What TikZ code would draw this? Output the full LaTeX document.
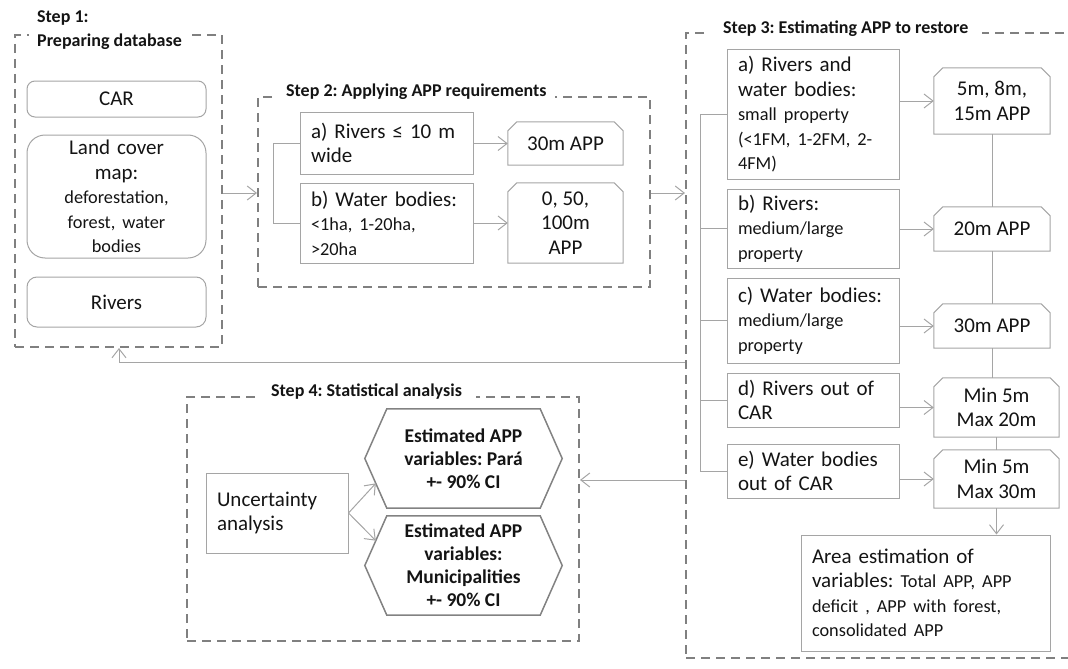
\documentclass[tikz,border=0pt]{standalone}
\usepackage{fontspec}
\setmainfont{Carlito}
\usetikzlibrary{arrows.meta,calc}
\definecolor{boxgray}{RGB}{165,165,165}
\definecolor{framegray}{RGB}{128,128,128}
\definecolor{hexgray}{RGB}{130,130,130}
\definecolor{txt}{RGB}{20,20,20}
\newcommand\Bg{\fontsize{21}{24.5}\selectfont}
\newcommand\Sm{\fontsize{18.3}{24}\selectfont}
\newcommand\Hd{\bfseries\fontsize{18}{24}\selectfont}
\newcommand\Hx{\bfseries\fontsize{19.5}{23}\selectfont}
\frenchspacing
\begin{document}
\begin{tikzpicture}[x=1pt,y=-1pt,
  frame/.style={draw=framegray, line width=2pt, dash pattern=on 9pt off 6pt, inner sep=0pt},
  steptitle/.style={fill=white, inner xsep=8pt, inner ysep=2pt, anchor=west, font=\Hd, text=txt, align=left},
  rbox/.style={draw=boxgray, line width=1pt, rounded corners=8pt, minimum width=179pt, inner xsep=11pt, text=txt, align=center, font=\Bg},
  lbox/.style={draw=boxgray, line width=1pt, text=txt, align=left, inner xsep=11pt, font=\Bg},
  cnode/.style={inner sep=0pt, text=txt, align=center, font=\Bg},
  hexnode/.style={inner sep=0pt, text=txt, align=center, font=\Hx, minimum width=197pt, minimum height=99pt},
  conn/.style={draw=boxgray, line width=1pt},
  arr/.style={conn, -{Straight Barb[length=9pt,width=14pt,line width=1pt]}},
  boxline/.style={draw=boxgray, line width=1pt},
  hexline/.style={draw=hexgray, line width=1.5pt}
]
\useasboundingbox (0,0) rectangle (1068,669);
\clip (0,0) rectangle (1068,669);

% frames
\node[frame, minimum width=207pt, minimum height=312pt] (s1) at (118.5,191) {};
\node[frame, minimum width=392pt, minimum height=190pt] (s2) at (454,192) {};
\node[frame, minimum width=394pt, minimum height=625pt] (s3) at (883,345.5) {};
\node[frame, minimum width=392pt, minimum height=244pt] (s4) at (383,519) {};

% titles
\node[steptitle] (t1) at (29,30) {Step 1:\\Preparing database};
\node[steptitle] (t2) at (278,92) {Step 2: Applying APP requirements};
\node[steptitle, inner xsep=14pt] (t3) at (709,29) {Step 3: Estimating APP to restore};
\node[steptitle, inner xsep=14pt] (t4) at (257,392) {Step 4: Statistical analysis};

% Step 1
\node[rbox, minimum height=36pt] (car) at (116.5,99) {CAR};
\node[rbox, minimum height=123pt, rounded corners=18pt, text width=157pt] (land) at (116.5,196.5)
  {Land cover\\map:\\{\Sm deforestation,}\\{\Sm forest, water}\\{\Sm bodies}};
\node[rbox, minimum height=50pt, rounded corners=10pt] (riv) at (116.5,302) {Rivers};

% Step 2
\node[lbox, text width=151pt, minimum height=62pt] (a2) at (386.5,143) {a) Rivers ≤ 10 m\\wide};
\node[lbox, text width=151pt, minimum height=80pt] (b2) at (386.5,223) {b) Water bodies:\\{\Sm <1ha, 1-20ha,}\\{\Sm >20ha}};
\node[cnode, minimum width=115pt, minimum height=43pt] (r2a) at (565.5,143.5) {30m APP};
\node[cnode, minimum width=115pt, minimum height=80pt] (r2b) at (565.5,223) {0, 50,\\100m\\APP};

% Step 3
\node[lbox, text width=150pt, minimum height=129pt] (a3) at (813,114.5)
  {a) Rivers and\\water bodies:\\{\Sm small property}\\{\Sm (<1FM, 1-2FM, 2-}\\{\Sm 4FM)}};
\node[lbox, text width=150pt, minimum height=79pt] (b3) at (813,228.5) {b) Rivers:\\{\Sm medium/large}\\{\Sm property}};
\node[lbox, text width=150pt, minimum height=85pt] (c3) at (813,320.5) {c) Water bodies:\\{\Sm medium/large}\\{\Sm property}};
\node[lbox, text width=150pt, minimum height=54pt] (d3) at (813,400) {d) Rivers out of\\CAR};
\node[lbox, text width=150pt, minimum height=54pt] (e3) at (813,471) {e) Water bodies\\out of CAR};
\node[cnode, minimum width=116pt, minimum height=66pt] (r3a) at (992,101) {5m, 8m,\\15m APP};
\node[cnode, minimum width=116pt, minimum height=44pt] (r3b) at (992,229) {20m APP};
\node[cnode, minimum width=116pt, minimum height=44pt] (r3c) at (992,326) {30m APP};
\node[cnode, minimum width=125pt, minimum height=59pt] (r3d) at (996.5,407.5) {Min 5m\\Max 20m};
\node[cnode, minimum width=125pt, minimum height=58pt] (r3e) at (996.5,479) {Min 5m\\Max 30m};
\node[lbox, text width=227pt, minimum height=116pt] (area) at (925.5,593)
  {Area estimation of\\variables: {\Sm Total APP, APP}\\{\Sm deficit , APP with forest,}\\{\Sm consolidated APP}};

% chamfered boxes
\foreach \n in {r2a,r2b,r3a,r3b,r3c,r3d,r3e}{
  \draw[boxline] ([yshift=-9pt]\n.north west) -- ([xshift=9pt]\n.north west) -- ([xshift=-9pt]\n.north east)
    -- ([yshift=-9pt]\n.north east) -- (\n.south east) -- (\n.south west) -- cycle;
}

% Step 4
\node[lbox, text width=120pt, minimum height=80pt] (unc) at (277,513) {Uncertainty\\analysis};
\node[hexnode] (h1) at (463.5,458.5) {Estimated APP\\variables: Pará\\+- 90\% CI};
\node[hexnode] (h2) at (463.5,565.5) {Estimated APP\\variables:\\Municipalities\\+- 90\% CI};
\foreach \n in {h1,h2}{
  \draw[hexline] (\n.west) -- ([xshift=22pt]\n.north west) -- ([xshift=-22pt]\n.north east) -- (\n.east)
    -- ([xshift=-22pt]\n.south east) -- ([xshift=22pt]\n.south west) -- cycle;
}
\coordinate (h1in) at ($(h1.west)!0.5!([xshift=22pt]h1.south west)$);
\coordinate (h2in) at ($(h2.west)!0.5!([xshift=22pt]h2.north west)$);
\draw[arr] (unc.east) -- (h1in);
\draw[arr] (unc.east) -- (h2in);

% Step 2 connectors
\coordinate (br2) at (273,0);
\draw[conn] (a2.west) -- (a2.west -| br2) -- (b2.west -| br2) -- (b2.west);
\draw[arr] (a2.east |- r2a.west) -- (r2a.west);
\draw[arr] (b2.east |- r2b.west) -- (r2b.west);

% Step 3 connectors
\coordinate (br3) at (700,0);
\draw[conn] (a3.west) -- (a3.west -| br3) -- (e3.west -| br3) -- (e3.west);
\foreach \n in {b3,c3,d3}{ \draw[conn] (\n.west) -- (\n.west -| br3); }
\draw[arr] (a3.east |- r3a.west) -- (r3a.west);
\draw[arr] (b3.east |- r3b.west) -- (r3b.west);
\draw[arr] (c3.east |- r3c.west) -- (r3c.west);
\draw[arr] (d3.east |- r3d.west) -- (r3d.west);
\draw[arr] (e3.east |- r3e.west) -- (r3e.west);
\draw[conn] (r3a.south) -- (r3b.north);
\draw[conn] (r3b.south) -- (r3c.north);
\draw[conn] (r3c.south) -- (r3c.south |- r3d.north);
\draw[conn] (r3d.south) -- (r3e.north);
\draw[arr] (r3e.south) -- (r3e.south |- area.north);

% inter-step connectors
\coordinate (y31) at (0,362);
\coordinate (x31) at (119,0);
\coordinate (y34) at (0,480);
\coordinate (y12) at (0,193);
\draw[arr] (s1.east |- y12) -- (s2.west |- y12);
\draw[arr] (s2.east |- y12) -- (s3.west |- y12);
\draw[arr] (s3.west |- y31) -| (s1.south -| x31);
\draw[arr] (s3.west |- y34) -- (s4.east |- y34);
\end{tikzpicture}
\end{document}
